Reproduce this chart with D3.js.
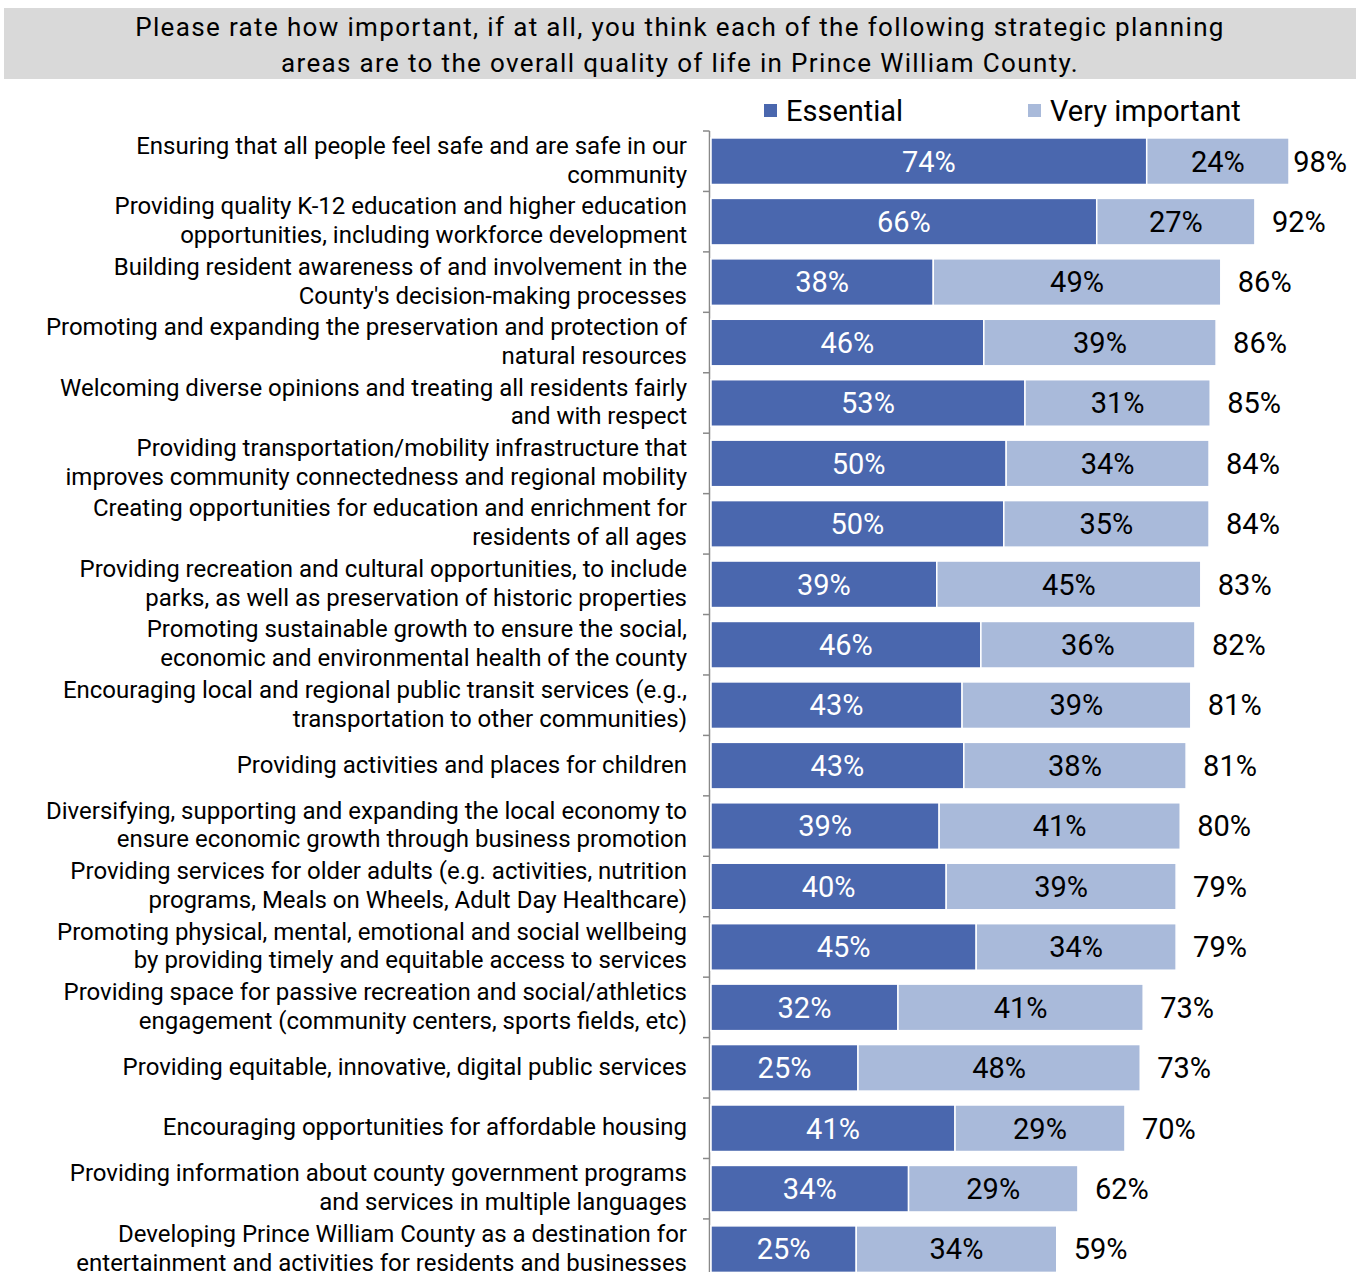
<!DOCTYPE html>
<html><head><meta charset="utf-8">
<script src="https://cdn.jsdelivr.net/npm/d3@7"></script>
<style>body{margin:0;background:#fff;font-family:Roboto,"Noto Sans",sans-serif;}</style>
</head><body><svg id="c" width="1359" height="1272"></svg>
<script>
const titleLines = ["Please rate how important, if at all, you think each of the following strategic planning","areas are to the overall quality of life in Prince William County."];
const seriesNames = ["Essential","Very important"];
const categories = [
 "Ensuring that all people feel safe and are safe in our\ncommunity",
 "Providing quality K-12 education and higher education\nopportunities, including workforce development",
 "Building resident awareness of and involvement in the\nCounty's decision-making processes",
 "Promoting and expanding the preservation and protection of\nnatural resources",
 "Welcoming diverse opinions and treating all residents fairly\nand with respect",
 "Providing transportation/mobility infrastructure that\nimproves community connectedness and regional mobility",
 "Creating opportunities for education and enrichment for\nresidents of all ages",
 "Providing recreation and cultural opportunities, to include\nparks, as well as preservation of historic properties",
 "Promoting sustainable growth to ensure the social,\neconomic and environmental health of the county",
 "Encouraging local and regional public transit services (e.g.,\ntransportation to other communities)",
 "Providing activities and places for children",
 "Diversifying, supporting and expanding the local economy to\nensure economic growth through business promotion",
 "Providing services for older adults (e.g. activities, nutrition\nprograms, Meals on Wheels, Adult Day Healthcare)",
 "Promoting physical, mental, emotional and social wellbeing\nby providing timely and equitable access to services",
 "Providing space for passive recreation and social/athletics\nengagement (community centers, sports fields, etc)",
 "Providing equitable, innovative, digital public services",
 "Encouraging opportunities for affordable housing",
 "Providing information about county government programs\nand services in multiple languages",
 "Developing Prince William County as a destination for\nentertainment and activities for residents and businesses"
];
// printed (rounded) labels
const essential = [74,66,38,46,53,50,50,39,46,43,43,39,40,45,32,25,41,34,25];
const veryImportant = [24,27,49,39,31,34,35,45,36,39,38,41,39,34,41,48,29,29,34];
const totals = [98,92,86,86,85,84,84,83,82,81,81,80,79,79,73,73,70,62,59];
// unrounded values
const essentialExact = [74.1,65.6,37.8,46.4,53.4,50.2,49.8,38.4,45.9,42.7,43.0,38.8,40.0,45.1,31.8,25.0,41.5,33.6,24.7];
const veryImportantExact = [24.2,26.9,48.9,39.5,31.5,34.5,34.9,44.9,36.4,38.9,37.8,41.0,39.1,34.0,41.7,48.0,28.9,28.8,34.1];

const colors = ["#4a67ae","#a9bada"];
const svg = d3.select("#c");

// title box
svg.append("rect").attr("x",4).attr("y",8).attr("width",1352).attr("height",71).attr("fill","#d9d9d9");
svg.append("g").selectAll("text").data(titleLines).join("text")
  .attr("x",680).attr("y",(d,i)=>36+i*35.5).attr("text-anchor","middle")
  .attr("font-size",26).attr("letter-spacing","1.35px").attr("fill","#000").text(d=>d);

// legend
const legX = [764,1028];
const lg = svg.append("g").selectAll("g").data(seriesNames).join("g")
  .attr("transform",(d,i)=>`translate(${legX[i]},0)`);
lg.append("rect").attr("x",0).attr("y",104).attr("width",13).attr("height",13).attr("fill",(d,i)=>colors[i]);
lg.append("text").attr("x",22).attr("y",121).attr("font-size",29).text(d=>d);

const idx = d3.range(categories.length);
const y = d3.scaleBand().domain(idx).range([131, 131+19*60.44]).paddingInner(0.23).paddingOuter(0.115);
const x = d3.scaleLinear().domain([0,100]).range([711, 711+588]);

// axis
const ax = svg.append("g");
ax.append("line").attr("x1",709.5).attr("x2",709.5).attr("y1",131).attr("y2",1272).attr("stroke","#898989").attr("stroke-width",1.5);
ax.selectAll("line.t").data(d3.range(20)).join("line").attr("class","t")
  .attr("x1",703).attr("x2",709.5).attr("y1",d=>131+d*60.44).attr("y2",d=>131+d*60.44)
  .attr("stroke","#898989").attr("stroke-width",1.5);

// category labels
const cl = svg.append("g").selectAll("text").data(idx).join("text")
  .attr("x",687).attr("text-anchor","end").attr("font-size",24).attr("fill","#000");
cl.each(function(i){
  const lines = categories[i].split("\n");
  const cy = y(i)+y.bandwidth()/2;
  d3.select(this).selectAll("tspan").data(lines).join("tspan")
    .attr("x",687).attr("y",(d,k)=>cy+7+(k-(lines.length-1)/2)*28.8)
    .text(d=>d);
});

// bars
const fs = 29, off = 10.3;
const rows = svg.append("g").selectAll("g").data(idx).join("g");
const e = i=>essentialExact[i], t = i=>essentialExact[i]+veryImportantExact[i];
rows.append("rect").attr("x",x(0)).attr("y",i=>y(i)).attr("height",y.bandwidth())
  .attr("width",i=>x(e(i))-x(0)).attr("fill",colors[0]).attr("stroke","#fff").attr("stroke-width",1.5);
rows.append("rect").attr("x",i=>x(e(i))).attr("y",i=>y(i)).attr("height",y.bandwidth())
  .attr("width",i=>x(t(i))-x(e(i))).attr("fill",colors[1]).attr("stroke","#fff").attr("stroke-width",1.5);
rows.append("text").attr("x",i=>(x(0)+x(e(i)))/2).attr("y",i=>y(i)+y.bandwidth()/2+off)
  .attr("text-anchor","middle").attr("font-size",fs).attr("fill","#fff")
  .text(i=>essential[i]+"%");
rows.append("text").attr("x",i=>(x(e(i))+x(t(i)))/2).attr("y",i=>y(i)+y.bandwidth()/2+off)
  .attr("text-anchor","middle").attr("font-size",fs).attr("fill","#000")
  .text(i=>veryImportant[i]+"%");
rows.append("text").attr("y",i=>y(i)+y.bandwidth()/2+off)
  .attr("font-size",fs).attr("fill","#000")
  .text(i=>totals[i]+"%")
  .each(function(i){
    const w = this.getComputedTextLength();
    let sx = x(t(i))+17;
    if (sx + w > 1347) sx = 1347 - w;
    d3.select(this).attr("x",sx);
  });
</script></body></html>
